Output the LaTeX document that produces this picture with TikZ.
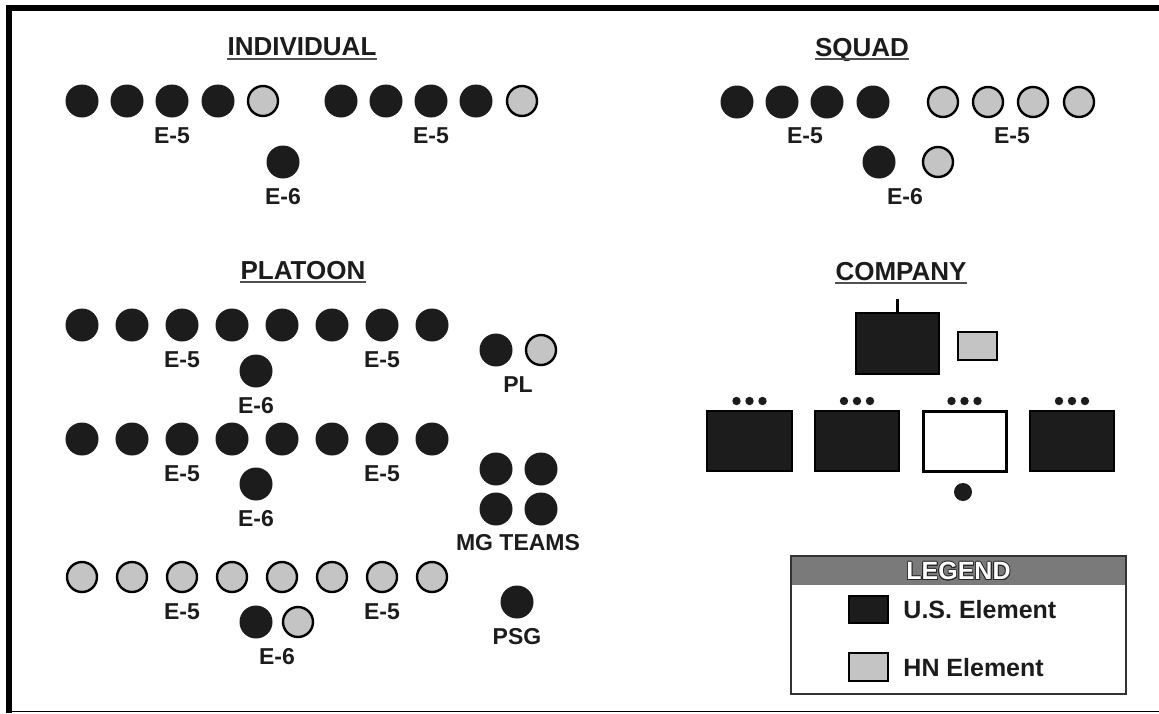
\documentclass[tikz,border=0pt]{standalone}
\usepackage{fontspec}
\setmainfont{Liberation Sans}
\usepackage{contour}
\usetikzlibrary{positioning}
\definecolor{usblack}{RGB}{28,28,28}
\definecolor{hngray}{RGB}{196,196,196}
\definecolor{headgray}{RGB}{122,122,122}
\definecolor{ulgray}{RGB}{80,80,80}
\contourlength{0.8pt}

\begin{document}
\begin{tikzpicture}[x=1pt,y=-1pt,
node distance=10pt and 14pt,
us/.style={circle,draw=usblack,fill=usblack,line width=1pt,minimum size=32pt,inner sep=0pt},
hn/.style={circle,draw=black,fill=hngray,line width=2.4pt,minimum size=30pt,inner sep=0pt},
lbl/.style={font=\bfseries\fontsize{23}{23}\selectfont,text=usblack,inner sep=0pt,text depth=0pt},
ttl/.style={lbl,font=\bfseries\fontsize{26}{26}\selectfont},
lgtxt/.style={lbl,font=\bfseries\fontsize{25}{25}\selectfont},
usbox/.style={draw=black,fill=usblack,line width=2.5pt,inner sep=0pt},
hnbox/.style={draw=black,fill=hngray,line width=2.5pt,inner sep=0pt},
emptybox/.style={draw=black,fill=white,line width=3pt,inner sep=0pt},
uline/.style={draw=ulgray,line width=1.6pt}
]
\useasboundingbox (0,0) rectangle (1159,713);
% frame
\fill (6,5) rectangle (1159,11);
\fill (6,5) rectangle (12,713);
\draw[line width=1.5pt] (12,711.5) -- (1159,711.5);

% titles
\node[ttl] (tind) at (302,47) {INDIVIDUAL};
\node[ttl] (tsq) at (862,47) {SQUAD};
\node[ttl] (tplt) at (303,270) {PLATOON};
\node[ttl] (tcoy) at (901,271) {COMPANY};
\foreach \t in {tind,tsq,tplt,tcoy}
  \draw[uline] ([yshift=-3pt]\t.south west) -- ([yshift=-3pt]\t.south east);

% individual
\foreach \x [count=\i] in {82,127,172,218} \node[us] (ia\i) at (\x,101) {};
\node[hn] (ia5) at (263,101) {};
\foreach \x [count=\i] in {341,386,431,476} \node[us] (ib\i) at (\x,101) {};
\node[hn] (ib5) at (522,101) {};
\node[lbl,below=of ia3] (iae5) {E-5};
\node[lbl,below=of ib3] (ibe5) {E-5};
\node[us] (ie6) at (283,162) {};
\node[lbl,below=of ie6] (ie6lbl) {E-6};

% squad
\foreach \x [count=\i] in {737,782,827,873} \node[us] (sa\i) at (\x,102) {};
\foreach \x [count=\i] in {943,988,1033,1079} \node[hn] (sb\i) at (\x,102) {};
\node[lbl] (sae5) at (805,136) {E-5};
\node[lbl] (sbe5) at (1012,136) {E-5};
\node[us] (se6a) at (879,162) {};
\node[hn] (se6b) at (938,162) {};
\node[lbl] (se6lbl) at (905,196) {E-6};

% platoon
\foreach \r/\y in {a/325,b/439}
  \foreach \i in {1,...,8} \node[us] (p\r\i) at (32+50*\i,\y) {};
\foreach \i in {1,...,8} \node[hn] (pc\i) at (32+50*\i,577) {};
\foreach \r in {a,b,c} {
  \node[lbl,below=of p\r3] {E-5};
  \node[lbl,below=of p\r7] {E-5};
}
\node[us] (pae6) at (256,371) {};
\node[lbl,below=of pae6] {E-6};
\node[us] (pbe6) at (256,484) {};
\node[lbl,below=of pbe6] {E-6};
\node[us] (pce6a) at (256,622) {};
\node[hn] (pce6b) at (298,622) {};
\node[lbl] (pce6lbl) at (277,656) {E-6};

\node[us] (pl1) at (496,350) {};
\node[hn] (pl2) at (541,350) {};
\node[lbl] (pllbl) at (518,385) {PL};
\node[us] (mg1) at (496,469) {};
\node[us] (mg2) at (541,469) {};
\node[us] (mg3) at (496,509) {};
\node[us] (mg4) at (541,509) {};
\node[lbl] (mglbl) at (518,542) {MG TEAMS};
\node[us] (psg) at (517,602) {};
\node[lbl,below=of psg] (psglbl) {PSG};

% company
\node[usbox,minimum width=83pt,minimum height=61pt] (hq) at (897.5,343.5) {};
\coordinate (hqtick) at (897.5,299);
\draw[line width=3pt] (hq.north) -- (hqtick);
\node[hnbox,minimum width=39pt,minimum height=28pt] (hnhq) at (977.5,346) {};
\node[usbox,minimum width=85pt,minimum height=60pt] (co1) at (749.5,441) {};
\node[usbox,minimum width=84pt,minimum height=60pt] (co2) at (857,441) {};
\node[emptybox,minimum width=83pt,minimum height=60pt] (co3) at (964.5,441) {};
\node[usbox,minimum width=84pt,minimum height=60pt] (co4) at (1072,441) {};
\foreach \c in {749.5,857,964.5,1072}
  \foreach \d in {-13,0,13} \fill[usblack] (\c+\d,401) circle (4.2);
\fill[usblack] (963,492) circle (9);

% legend
\fill[headgray] (791,556) rectangle (1126,585);
\node[draw=black!80,line width=2pt,minimum width=335pt,minimum height=138pt,inner sep=0pt] (legend) at (958.5,625) {};
\node[lgtxt,text=white] (legtitle) at (958.5,571) {\contour{black!85}{LEGEND}};
\node[usbox,minimum width=39pt,minimum height=27pt] (ussq) at (868.5,609.5) {};
\node[hnbox,minimum width=39pt,minimum height=28pt] (hnsq) at (868.5,667) {};
\node[lgtxt,right=14pt of ussq] (ustxt) {U.S. Element};
\node[lgtxt,right=14pt of hnsq] (hntxt) {HN Element};
\end{tikzpicture}
\end{document}
